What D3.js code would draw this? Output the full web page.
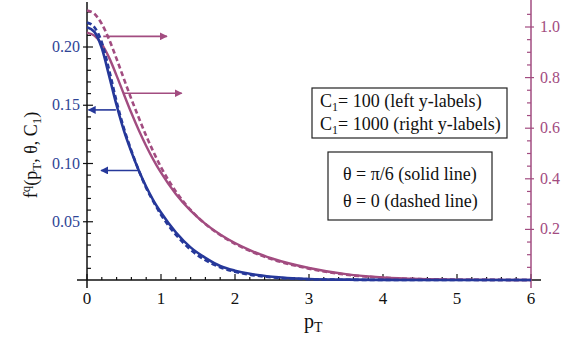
<!DOCTYPE html>
<html>
<head>
<meta charset="utf-8">
<script src="https://cdn.jsdelivr.net/npm/d3@7"></script>
<style>
  body { margin: 0; background: #fff; }
  svg text { font-family: "Liberation Serif", "Times New Roman", serif; }
</style>
</head>
<body>
<div class="chart"></div>
<script>
// pT sample points
const pT = [0, 0.1, 0.2, 0.3, 0.4, 0.5, 0.6, 0.7, 0.8, 0.9, 1.0, 1.2, 1.4, 1.6, 1.8, 2.0, 2.2, 2.5, 3.0, 3.5, 4.0, 4.5, 5.0, 6.0]

// C1 = 100, left axis
const blueSolid  = [0.217, 0.213, 0.199, 0.175, 0.150, 0.128, 0.110, 0.094, 0.080, 0.068, 0.058, 0.041, 0.028, 0.019, 0.012, 0.008, 0.0053, 0.0028, 0.0009, 0.0003, 0.0001, 0, 0, 0]
const blueDashed = [0.221, 0.217, 0.204, 0.180, 0.153, 0.130, 0.111, 0.094, 0.079, 0.067, 0.056, 0.039, 0.026, 0.017, 0.011, 0.007, 0.0046, 0.0023, 0.0007, 0.0002, 0, 0, 0, 0]

// C1 = 1000, right axis
const magSolid  = [0.978, 0.966, 0.932, 0.878, 0.808, 0.733, 0.660, 0.592, 0.530, 0.474, 0.424, 0.340, 0.274, 0.222, 0.180, 0.146, 0.118, 0.085, 0.0475, 0.023, 0.010, 0.004, 0.0015, 0]
const magDashed = [1.065, 1.052, 1.012, 0.950, 0.874, 0.794, 0.715, 0.641, 0.570, 0.505, 0.446, 0.350, 0.277, 0.221, 0.178, 0.143, 0.115, 0.082, 0.045, 0.021, 0.009, 0.0035, 0.0012, 0]

const xTicks = [0, 1, 2, 3, 4, 5, 6]
const leftTicks = [0.05, 0.10, 0.15, 0.20]
const rightTicks = [0.2, 0.4, 0.6, 0.8, 1.0]

// arrows: [pT from, pT to, value]
const blueArrows = [[0.39, 0.02, 0.146], [0.69, 0.19, 0.094]]
const magArrows = [[0.22, 1.08, 0.963], [0.49, 1.28, 0.738]]

const legendC1 = ["C", "1", "= 100 (left y-labels)", "C", "1", "= 1000 (right y-labels)"]
const legendTheta = ["\u03b8 = \u03c0/6 (solid line)", "\u03b8 = 0 (dashed line)"]

const width = 580
const height = 340
const blue = "#26389a"
const mag = "#a24c80"

const x = d3.scaleLinear().domain([0, 6]).range([87, 531])
const yL = d3.scaleLinear().domain([0, 0.2]).range([280, 47])
const yR = d3.scaleLinear().domain([0, 1.0]).range([280, 27])

const svg = d3.select(".chart").append("svg")
  .attr("width", width)
  .attr("height", height)

svg.append("defs").selectAll("marker")
  .data([["ab", blue], ["am", mag]])
  .enter().append("marker")
  .attr("id", d => d[0])
  .attr("viewBox", "0 0 10 10")
  .attr("refX", 9).attr("refY", 5)
  .attr("markerWidth", 5).attr("markerHeight", 5)
  .attr("orient", "auto")
  .append("path")
  .attr("d", "M0,0 L10,5 L0,10 z")
  .attr("fill", d => d[1])

// x axis
svg.append("line")
  .attr("x1", 77).attr("x2", 541)
  .attr("y1", yL(0)).attr("y2", yL(0))
  .attr("stroke", "#111").attr("stroke-width", 1.5)

const xMinor = d3.range(0, 30.5).map(i => i * 0.2)
svg.append("g").selectAll("line")
  .data(xMinor)
  .enter().append("line")
  .attr("x1", d => x(d)).attr("x2", d => x(d))
  .attr("y1", yL(0))
  .attr("y2", d => Math.abs(d - Math.round(d)) < 1e-6 ? yL(0) - 6 : yL(0) - 3)
  .attr("stroke", "#111").attr("stroke-width", 1.2)

svg.append("g").selectAll("text")
  .data(xTicks)
  .enter().append("text")
  .attr("x", d => x(d)).attr("y", 304)
  .attr("text-anchor", "middle")
  .attr("font-size", 17)
  .attr("fill", "#111")
  .text(d => d)

const xl = svg.append("text")
  .attr("x", 304).attr("y", 328)
  .attr("font-size", 20).attr("fill", "#111")
xl.append("tspan").text("p")
xl.append("tspan").attr("dy", 4).attr("font-size", 14).text("T")

// left axis
svg.append("line")
  .attr("x1", x(0)).attr("x2", x(0))
  .attr("y1", 2).attr("y2", 288)
  .attr("stroke", "#111").attr("stroke-width", 1.5)

const lMinor = d3.range(1, 24).map(i => i * 0.01)
svg.append("g").selectAll("line")
  .data(lMinor)
  .enter().append("line")
  .attr("x1", (d, i) => (i + 1) % 5 === 0 ? x(0) - 4 : x(0))
  .attr("x2", (d, i) => (i + 1) % 5 === 0 ? x(0) + 6 : x(0) + 4)
  .attr("y1", d => yL(d)).attr("y2", d => yL(d))
  .attr("stroke", "#111").attr("stroke-width", 1.2)

svg.append("g").selectAll("text")
  .data(leftTicks)
  .enter().append("text")
  .attr("x", 80).attr("y", d => yL(d) + 5)
  .attr("text-anchor", "end")
  .attr("font-size", 16)
  .attr("fill", "#2e4596")
  .text(d => d.toFixed(2))

const yl = svg.append("text")
  .attr("transform", "translate(37,155) rotate(-90)")
  .attr("text-anchor", "middle")
  .attr("font-size", 18).attr("fill", "#111")
yl.append("tspan").text("f")
yl.append("tspan").attr("dy", -7).attr("font-size", 13).text("q")
yl.append("tspan").attr("dy", 7).text("(p")
yl.append("tspan").attr("dy", 4).attr("font-size", 13).text("T")
yl.append("tspan").attr("dy", -4).text(", \u03b8, C")
yl.append("tspan").attr("dy", 4).attr("font-size", 13).text("1")
yl.append("tspan").attr("dy", -4).text(")")

// right axis
svg.append("line")
  .attr("x1", x(6)).attr("x2", x(6))
  .attr("y1", 0).attr("y2", 288)
  .attr("stroke", mag).attr("stroke-width", 1.5)

const rMinor = d3.range(1, 22).map(i => i * 0.05)
svg.append("g").selectAll("line")
  .data(rMinor)
  .enter().append("line")
  .attr("x1", (d, i) => (i + 1) % 4 === 0 ? x(6) + 3 : x(6))
  .attr("x2", (d, i) => (i + 1) % 4 === 0 ? x(6) - 6 : x(6) - 4)
  .attr("y1", d => yR(d)).attr("y2", d => yR(d))
  .attr("stroke", mag).attr("stroke-width", 1.2)

svg.append("g").selectAll("text")
  .data(rightTicks)
  .enter().append("text")
  .attr("x", 540).attr("y", d => yR(d) + 5)
  .attr("font-size", 16)
  .attr("fill", mag)
  .text(d => d.toFixed(1))

// curves
const lineL = d3.line().x((d, i) => x(pT[i])).y(d => yL(d)).curve(d3.curveMonotoneX)
const lineR = d3.line().x((d, i) => x(pT[i])).y(d => yR(d)).curve(d3.curveMonotoneX)

svg.append("path").attr("d", lineR(magSolid))
  .attr("fill", "none").attr("stroke", mag).attr("stroke-width", 2.4)
svg.append("path").attr("d", lineR(magDashed))
  .attr("fill", "none").attr("stroke", mag).attr("stroke-width", 2.6)
  .attr("stroke-dasharray", "5,3")
svg.append("path").attr("d", lineL(blueSolid))
  .attr("fill", "none").attr("stroke", blue).attr("stroke-width", 2.6)
svg.append("path").attr("d", lineL(blueDashed))
  .attr("fill", "none").attr("stroke", blue).attr("stroke-width", 2.6)
  .attr("stroke-dasharray", "5,3")

// arrows
svg.append("g").selectAll("line")
  .data(blueArrows)
  .enter().append("line")
  .attr("x1", d => x(d[0])).attr("x2", d => x(d[1]))
  .attr("y1", d => yL(d[2])).attr("y2", d => yL(d[2]))
  .attr("stroke", blue).attr("stroke-width", 1.6)
  .attr("marker-end", "url(#ab)")

svg.append("g").selectAll("line")
  .data(magArrows)
  .enter().append("line")
  .attr("x1", d => x(d[0])).attr("x2", d => x(d[1]))
  .attr("y1", d => yR(d[2])).attr("y2", d => yR(d[2]))
  .attr("stroke", mag).attr("stroke-width", 1.6)
  .attr("marker-end", "url(#am)")

// legend boxes
svg.append("rect")
  .attr("x", 312).attr("y", 88).attr("width", 195).attr("height", 50)
  .attr("fill", "#fff").attr("stroke", "#222").attr("stroke-width", 1.2)

;[0, 1].forEach(k => {
  const t = svg.append("text")
    .attr("x", 320).attr("y", 107 + k * 23)
    .attr("font-size", 18).attr("fill", "#111")
  t.append("tspan").text(legendC1[k * 3])
  t.append("tspan").attr("dy", 4).attr("font-size", 12).text(legendC1[k * 3 + 1])
  t.append("tspan").attr("dy", -4).text(legendC1[k * 3 + 2])
})

svg.append("rect")
  .attr("x", 328).attr("y", 152).attr("width", 164).attr("height", 68)
  .attr("fill", "#fff").attr("stroke", "#222").attr("stroke-width", 1.2)

svg.append("g").selectAll("text")
  .data(legendTheta)
  .enter().append("text")
  .attr("x", 343).attr("y", (d, i) => 180 + i * 27)
  .attr("font-size", 18).attr("fill", "#111")
  .text(d => d)
</script>
</body>
</html>
